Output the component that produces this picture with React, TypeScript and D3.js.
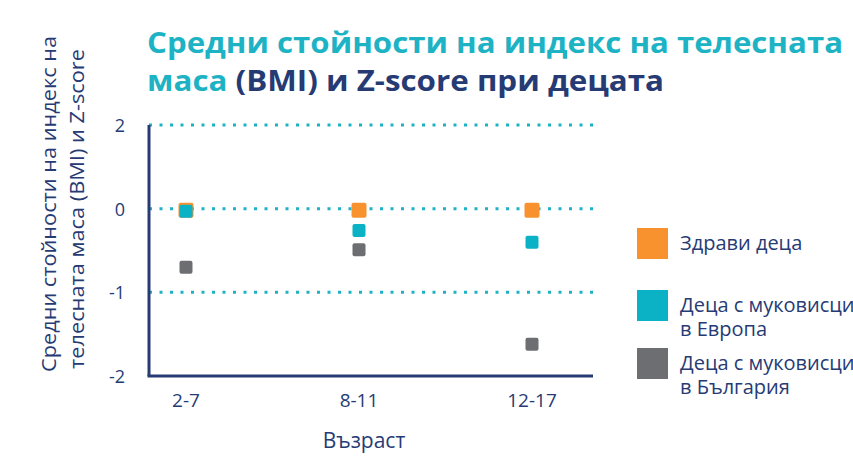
import React from "react";
import * as d3 from "d3";

const categories = ["2-7", "8-11", "12-17"];
const seriesNames = ["Здрави деца", "Деца с муковисцидоза в Европа", "Деца с муковисцидоза в България"];
const legendLines = [["Здрави деца"], ["Деца с муковисцидоза", "в Европа"], ["Деца с муковисцидоза", "в България"]];
const healthy = [-0.02, -0.02, -0.02];
const europe = [-0.03, -0.26, -0.4];
const bulgaria = [-0.7, -0.49, -1.62];
const tickValues = [1, 0, -1, -2];
const tickLabels = ["2", "0", "-1", "-2"];
const colors = ["#F7922E", "#0BB2C6", "#6D6E71"];

const NAVY = "#263B74";
const CYAN = "#1DB3C4";
const FONT = "'Open Sans', 'DejaVu Sans', sans-serif";

export default function App() {
  const W = 853, H = 460;
  const plotLeft = 149, plotRight = 593, plotTop = 125, plotBottom = 376;
  const y = d3.scaleLinear().domain([-2, 1]).range([plotBottom, plotTop]);
  const x = d3.scalePoint<string>().domain(categories).range([186, 532]);
  const series = [healthy, europe, bulgaria];
  const sizes = [15, 13, 13];
  return (
    <svg width={W} height={H} style={{ position: "absolute", left: 0, top: 0, fontFamily: FONT }}>
      <rect width={W} height={H} fill="#fff" />
      <text x={147} y={53} fontSize={28} fontWeight={700} fill={CYAN} textLength={696} lengthAdjust="spacingAndGlyphs">Средни стойности на индекс на телесната</text>
      <text x={147} y={91} fontSize={28} fontWeight={700} fill={NAVY} textLength={517} lengthAdjust="spacingAndGlyphs">
        <tspan fill={CYAN}>маса</tspan> (BMI) и Z-score при децата
      </text>
      <g transform="rotate(-90)" fill={NAVY} fontSize={20} textAnchor="middle">
        <text x={-204} y={56} textLength={336} lengthAdjust="spacingAndGlyphs">Средни стойности на индекс на</text>
        <text x={-209} y={84} textLength={320} lengthAdjust="spacingAndGlyphs">телесната маса (BMI) и Z-score</text>
      </g>
      {tickValues.map((t, i) => (
        <g key={t}>
          {t !== -2 && (
            <line x1={plotLeft} x2={plotRight} y1={y(t)} y2={y(t)} stroke={CYAN} strokeWidth={3} strokeDasharray="3 7.5" />
          )}
          <text x={125} y={y(t) + 7} textAnchor="end" fontSize={18} fill={NAVY}>{tickLabels[i]}</text>
        </g>
      ))}
      <line x1={plotLeft} x2={plotLeft} y1={plotTop} y2={plotBottom} stroke={NAVY} strokeWidth={3} />
      <line x1={plotLeft - 1.5} x2={plotRight} y1={plotBottom} y2={plotBottom} stroke={NAVY} strokeWidth={3} />
      {categories.map((c) => (
        <text key={c} x={x(c)} y={407} textAnchor="middle" fontSize={19} fill={NAVY}>{c}</text>
      ))}
      <text x={364} y={448} textAnchor="middle" fontSize={21} fill={NAVY}>Възраст</text>
      {series.map((vals, si) =>
        vals.map((v, ci) => (
          <rect key={si + "-" + ci} x={(x(categories[ci]) as number) - sizes[si] / 2} y={y(v) - sizes[si] / 2} width={sizes[si]} height={sizes[si]} rx={2} fill={colors[si]} />
        ))
      )}
      {seriesNames.map((n, i) => {
        const ty = [228, 290, 348][i];
        return (
          <g key={n}>
            <rect x={637} y={ty} width={31} height={31} fill={colors[i]} />
            {legendLines[i].map((l, li) => (
              <text key={li} x={680} y={ty + 22 + li * 24} fontSize={20} fill={NAVY}>{l}</text>
            ))}
          </g>
        );
      })}
    </svg>
  );
}
